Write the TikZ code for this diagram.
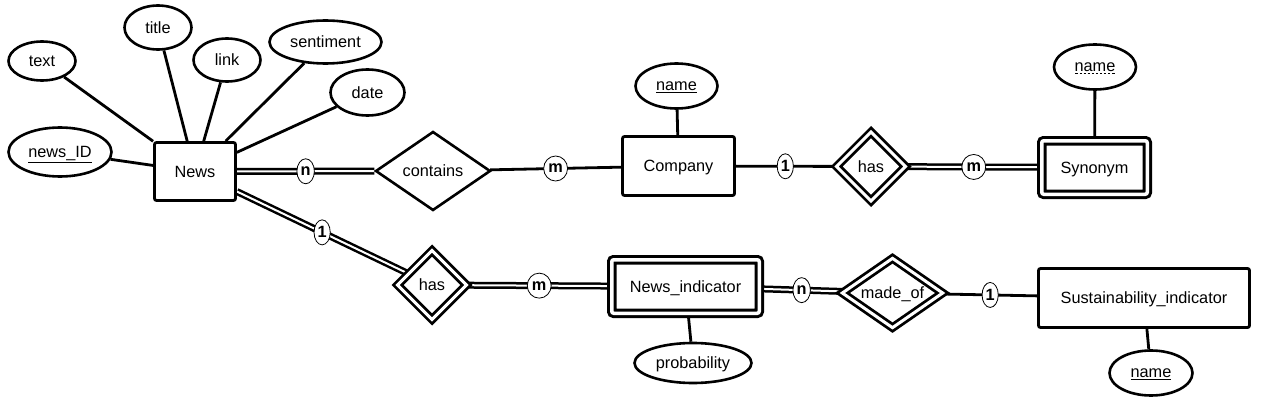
\documentclass[tikz,border=0pt]{standalone}
\usepackage{fontspec}
\setmainfont{Liberation Sans}
\usetikzlibrary{shapes.geometric}
\usetikzlibrary{backgrounds}

% dashed underline for a partial key
\newcommand\dashul[1]{\setbox0=\hbox{#1}\rlap{\copy0}%
  \lower2.6pt\hbox to \wd0{\xleaders\hbox to 4pt{\hss\vrule height 0.8pt depth 0pt width 2.4pt\hss}\hfill}}

\begin{document}
\begin{tikzpicture}[x=1pt,y=-1pt,
  every node/.style={font=\fontsize{16.3}{18}\selectfont, inner sep=0pt, text depth=0pt, fill=white},
  entity/.style={draw, rectangle, line width=2.8pt, rounded corners=2pt},
  weak/.style={draw, rectangle, line width=3pt, double, double distance=3.5pt, rounded corners=2pt},
  attr/.style={draw, ellipse, line width=2.6pt},
  rel/.style={draw, diamond, aspect=1.5, line width=2.6pt},
  weakrel/.style={draw, diamond, aspect=1.5, line width=2.8pt, double, double distance=3pt},
  conn/.style={line width=2.8pt},
  dconn/.style={line width=2.5pt, double, double distance=2pt},
  card/.style={draw, ellipse, line width=0.8pt, inner sep=1.2pt, minimum height=25pt,
    font=\fontsize{16.3}{18}\selectfont\bfseries}]

  \useasboundingbox (0,0) rectangle (1262,420);

  % news and its attributes
  \node[entity, minimum width=81, minimum height=58] (news) at (195,171.5) {News};
  \node[attr, minimum width=67, minimum height=39] (text) at (42,61) {text};
  \node[attr, minimum width=67, minimum height=44] (title) at (158,27.5) {title};
  \node[attr, minimum width=67, minimum height=43] (link) at (227,60) {link};
  \node[attr, minimum width=112, minimum height=43] (sentiment) at (325.5,42) {sentiment};
  \node[attr, minimum width=74, minimum height=46] (date) at (367.5,92.5) {date};
  \node[attr, minimum width=103, minimum height=49] (newsid) at (60,152) {\underline{news\_ID}};

  % company
  \node[rel, minimum width=115, minimum height=79] (contains) at (433,171) {contains};
  \node[entity, minimum width=112, minimum height=59] (company) at (678.5,166) {Company};
  \node[attr, minimum width=82, minimum height=45] (cname) at (676.5,86) {\underline{name}};

  % synonym
  \node[weakrel, minimum width=70, minimum height=70] (hassyn) at (871,166.5) {has};
  \node[weak, minimum width=105.5, minimum height=53.5] (synonym) at (1094.5,167.5) {Synonym};
  \node[attr, minimum width=82, minimum height=45] (sname) at (1095,67) {\dashul{name}};

  % indicators
  \node[weakrel, minimum width=70, minimum height=70] (hasind) at (432,285) {has};
  \node[weak, minimum width=147.5, minimum height=53.5] (newsind) at (685.5,286.5) {News\_indicator};
  \node[attr, minimum width=117, minimum height=40] (prob) at (693,363) {probability};
  \node[weakrel, minimum width=101.5, minimum height=70.5] (madeof) at (892.5,293) {made\_of};
  \node[entity, minimum width=211, minimum height=59] (sust) at (1144,298) {Sustainability\_indicator};
  \node[attr, minimum width=83, minimum height=45] (siname) at (1151,373) {\underline{name}};

  \begin{scope}[on background layer]
    % attribute links
    \foreach \a in {text,title,link,sentiment,date,newsid}
      \draw[conn] (\a) -- (news);
    \draw[conn] (cname) -- (company);
    \draw[conn] (sname) -- (synonym);
    \draw[conn] (newsind) -- (prob);
    \draw[conn] (sust) -- (siname);

    % relationships
    \draw[dconn] (news) -- node[card] {n} (contains);
    \draw[conn] (contains) -- node[card] {m} (company);
    \draw[conn] (company) -- node[card] {1} (hassyn);
    \draw[dconn] (hassyn) -- node[card] {m} (synonym);
    \draw[dconn] (news) -- node[card] {1} (hasind);
    \draw[dconn] (hasind) -- node[card] {m} (newsind);
    \draw[dconn] (newsind) -- node[card] {n} (madeof);
    \draw[conn] (madeof) -- node[card] {1} (sust);
  \end{scope}

\end{tikzpicture}
\end{document}
